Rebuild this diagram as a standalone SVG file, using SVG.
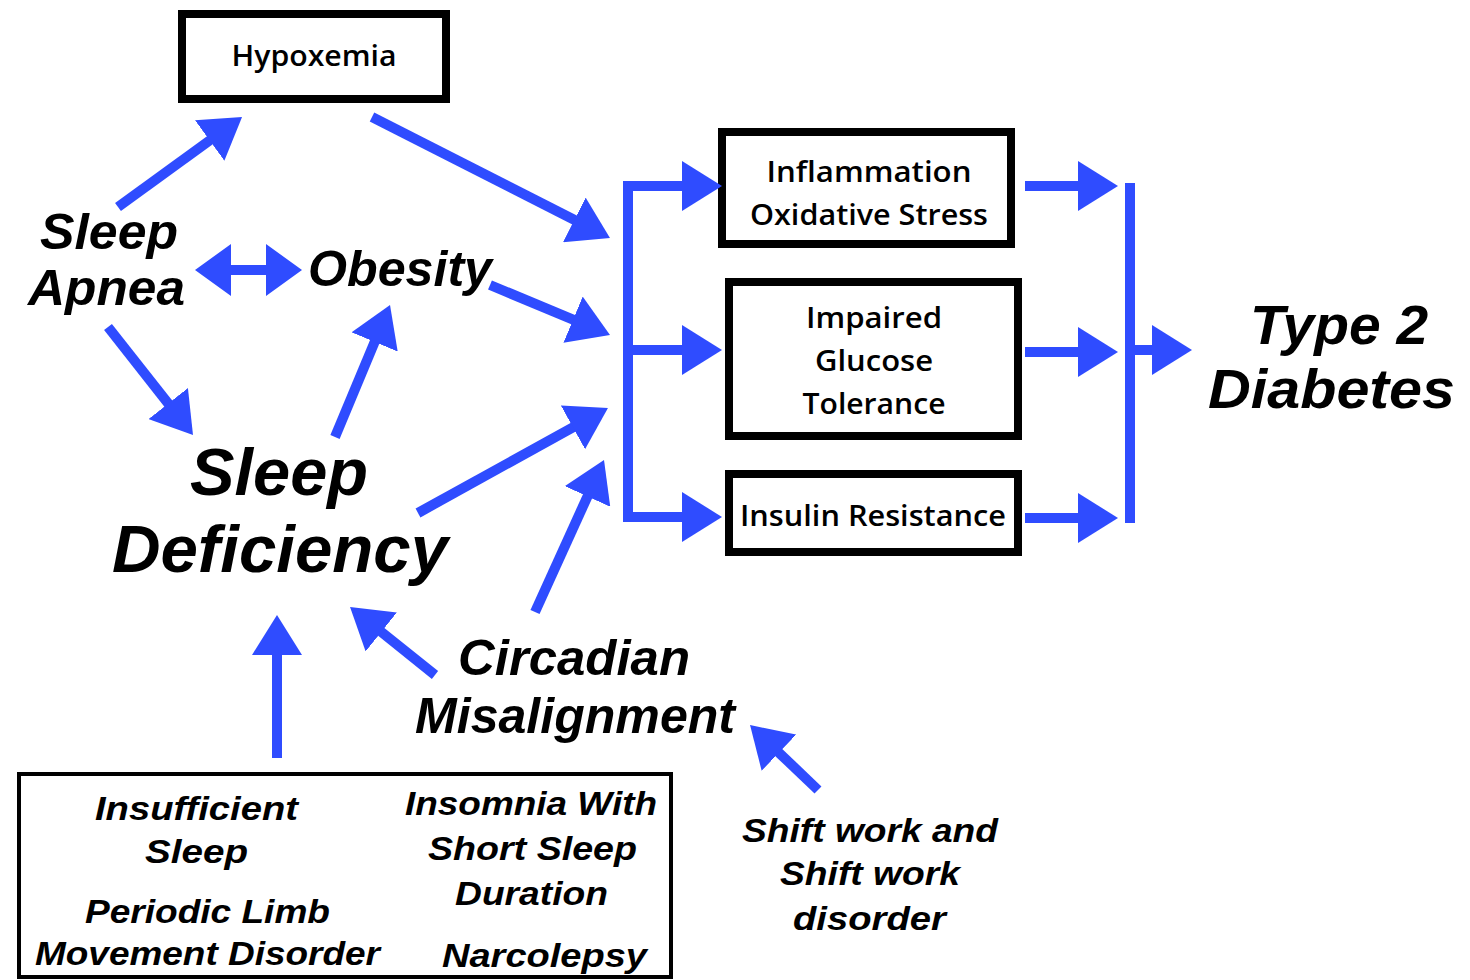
<svg xmlns="http://www.w3.org/2000/svg" width="1470" height="980" viewBox="0 0 1470 980">
<defs>
<marker id="ah" viewBox="0 0 4 5" refX="0.2" refY="2.5" markerWidth="4" markerHeight="5" markerUnits="strokeWidth" orient="auto">
<path d="M0,0 L4,2.5 L0,5 z" fill="#2f4cff"/>
</marker>
<style>
.box{fill:#fff;stroke:#000;stroke-width:8}
.box2{fill:#fff;stroke:#000;stroke-width:4}
.bt{font-family:"Open Sans","Liberation Sans",sans-serif;font-size:28px;font-weight:600;fill:#000;text-anchor:middle}
.it{font-family:"Liberation Sans",Arial,sans-serif;font-weight:bold;font-style:italic;fill:#000}
.sm{font-family:"Liberation Sans",Arial,sans-serif;font-weight:bold;font-style:italic;fill:#000;font-size:33px}
.ar{stroke:#2f4cff;stroke-width:10;fill:none;marker-end:url(#ah)}
.ln{stroke:#2f4cff;stroke-width:10;fill:none}
</style>
</defs>
<rect width="1470" height="980" fill="#fff"/>

<g id="hypoxemia">
<rect class="box" x="182" y="14" width="264" height="85"/>
<text class="bt" x="314" y="66" textLength="165" lengthAdjust="spacingAndGlyphs">Hypoxemia</text>
</g>
<g id="inflammation">
<rect class="box" x="722" y="132" width="289" height="112"/>
<text class="bt" x="869" y="182" textLength="205" lengthAdjust="spacingAndGlyphs">Inflammation</text>
<text class="bt" x="869" y="225" textLength="238" lengthAdjust="spacingAndGlyphs">Oxidative Stress</text>
</g>
<g id="impaired">
<rect class="box" x="729" y="282" width="289" height="154"/>
<text class="bt" x="874" y="328" textLength="136" lengthAdjust="spacingAndGlyphs">Impaired</text>
<text class="bt" x="874" y="371" textLength="118" lengthAdjust="spacingAndGlyphs">Glucose</text>
<text class="bt" x="874" y="414" textLength="143" lengthAdjust="spacingAndGlyphs">Tolerance</text>
</g>
<g id="insulin">
<rect class="box" x="729" y="474" width="289" height="78"/>
<text class="bt" x="873" y="526" textLength="266" lengthAdjust="spacingAndGlyphs">Insulin Resistance</text>
</g>
<g id="sleep-apnea">
<text class="it" font-size="50" x="40" y="249" textLength="138" lengthAdjust="spacingAndGlyphs">Sleep</text>
<text class="it" font-size="50" x="28" y="305" textLength="157" lengthAdjust="spacingAndGlyphs">Apnea</text>
</g>
<g id="obesity">
<text class="it" font-size="50" x="308" y="286" textLength="184" lengthAdjust="spacingAndGlyphs">Obesity</text>
</g>
<g id="sleep-deficiency">
<text class="it" font-size="66" x="190" y="495" textLength="178" lengthAdjust="spacingAndGlyphs">Sleep</text>
<text class="it" font-size="66" x="112" y="572" textLength="336" lengthAdjust="spacingAndGlyphs">Deficiency</text>
</g>
<g id="circadian">
<text class="it" font-size="50" x="458" y="675" textLength="232" lengthAdjust="spacingAndGlyphs">Circadian</text>
<text class="it" font-size="50" x="415" y="733" textLength="320" lengthAdjust="spacingAndGlyphs">Misalignment</text>
</g>
<g id="type2">
<text class="it" font-size="56" x="1250" y="344" textLength="178" lengthAdjust="spacingAndGlyphs">Type 2</text>
<text class="it" font-size="56" x="1208" y="408" textLength="247" lengthAdjust="spacingAndGlyphs">Diabetes</text>
</g>
<g id="disorders">
<rect class="box2" x="19" y="774" width="652" height="203"/>
<text class="sm" x="95" y="820" textLength="203" lengthAdjust="spacingAndGlyphs">Insufficient</text>
<text class="sm" x="145" y="863" textLength="103" lengthAdjust="spacingAndGlyphs">Sleep</text>
<text class="sm" x="85" y="923" textLength="245" lengthAdjust="spacingAndGlyphs">Periodic Limb</text>
<text class="sm" x="35" y="965" textLength="345" lengthAdjust="spacingAndGlyphs">Movement Disorder</text>
<text class="sm" x="405" y="815" textLength="252" lengthAdjust="spacingAndGlyphs">Insomnia With</text>
<text class="sm" x="428" y="860" textLength="209" lengthAdjust="spacingAndGlyphs">Short Sleep</text>
<text class="sm" x="455" y="905" textLength="153" lengthAdjust="spacingAndGlyphs">Duration</text>
<text class="sm" x="442" y="967" textLength="205" lengthAdjust="spacingAndGlyphs">Narcolepsy</text>
</g>
<g id="shiftwork">
<text class="sm" x="742" y="842" textLength="256" lengthAdjust="spacingAndGlyphs">Shift work and</text>
<text class="sm" x="780" y="885" textLength="180" lengthAdjust="spacingAndGlyphs">Shift work</text>
<text class="sm" x="793" y="930" textLength="153" lengthAdjust="spacingAndGlyphs">disorder</text>
</g>

<g id="connectors">
<line class="ar" x1="118" y1="207" x2="211.3" y2="139.3"/>
<line class="ar" x1="372" y1="117" x2="576.1" y2="220.8"/>
<path d="M195,270 L231,244 L231,296 z M302,270 L266,244 L266,296 z" fill="#2f4cff"/>
<line class="ln" x1="228" y1="270" x2="270" y2="270"/>
<line class="ar" x1="490" y1="285" x2="574.9" y2="320.4"/>
<line class="ar" x1="108" y1="327" x2="169.5" y2="405.1"/>
<line class="ar" x1="335" y1="437" x2="375.4" y2="340.1"/>
<line class="ar" x1="418" y1="513" x2="574.7" y2="426.4"/>
<line class="ar" x1="535" y1="612" x2="588.3" y2="494.6"/>
<line class="ar" x1="435" y1="675" x2="379.7" y2="630.7"/>
<line class="ar" x1="277" y1="758" x2="277" y2="653"/>
<line class="ar" x1="818" y1="790" x2="777.5" y2="751.3"/>
<path class="ln" d="M660,186 H628 V517 H660"/>
<line class="ar" x1="624" y1="186" x2="684" y2="186"/>
<line class="ar" x1="628" y1="350" x2="684" y2="350"/>
<line class="ar" x1="624" y1="517" x2="684" y2="517"/>
<line class="ar" x1="1025" y1="186" x2="1080" y2="186"/>
<line class="ar" x1="1025" y1="352" x2="1080" y2="352"/>
<line class="ar" x1="1025" y1="518" x2="1080" y2="518"/>
<line class="ln" x1="1130" y1="183" x2="1130" y2="523"/>
<line class="ar" x1="1130" y1="350" x2="1154" y2="350"/>
</g>
</svg>
